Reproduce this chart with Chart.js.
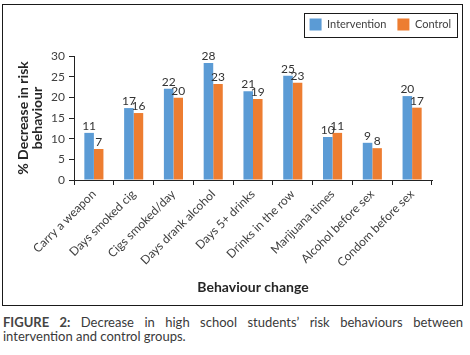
<!DOCTYPE html>
<html><head><meta charset="utf-8">
<script src="https://cdn.jsdelivr.net/npm/chart.js@4.4.0/dist/chart.umd.min.js"></script>
<style>
html,body{margin:0;padding:0;background:#fff;}
#frame{position:absolute;left:2px;top:4px;width:459px;height:300px;border:1px solid #1a1a1a;}
#frame canvas{display:block;}
#caption{position:absolute;left:3px;top:315px;width:460px;font-family:Lato,sans-serif;font-size:13px;line-height:14px;color:#3a3a3a;text-align:justify;text-align-last:left;}
#caption b{color:#444;}
</style></head><body>
<div id="frame"><canvas id="c" width="459" height="300"></canvas></div>
<div id="caption"><b>FIGURE 2:</b> Decrease in high school students’ risk behaviours between intervention and control groups.</div>
<script>
const categories = ['Carry a weapon', 'Days smoked cig', 'Cigs smoked/day', 'Days drank alcohol', 'Days 5+ drinks', 'Drinks in the row', 'Marijuana times', 'Alcohol before sex', 'Condom before sex'];
const seriesNames = ['Intervention', 'Control'];
const interventionValues = [11.4, 17.4, 22.1, 28.3, 21.5, 25.2, 10.4, 9.0, 20.3];
const controlValues = [7.5, 16.2, 19.9, 23.2, 19.6, 23.5, 11.4, 7.7, 17.5];
const interventionLabels = ['11', '17', '22', '28', '21', '25', '10', '9', '20'];
const controlLabels = ['7', '16', '20', '23', '19', '23', '11', '8', '17'];
const yTitleLines = ['% Decrease in risk', 'behaviour'];
const xTitle = 'Behaviour change';

Chart.defaults.font.family = 'Lato, sans-serif';
Chart.defaults.color = '#404040';

const valueLabels = {
  id: 'valueLabels',
  afterDatasetsDraw(chart) {
    const ctx = chart.ctx;
    const sets = [interventionLabels, controlLabels];
    ctx.save();
    ctx.font = '12px Lato, sans-serif';
    ctx.fillStyle = '#333';
    ctx.textAlign = 'center';
    ctx.textBaseline = 'alphabetic';
    chart.data.datasets.forEach((ds, i) => {
      chart.getDatasetMeta(i).data.forEach((bar, j) => {
        ctx.fillText(sets[i][j], bar.x, bar.y - 3);
      });
    });
    ctx.restore();
  }
};

const legendExtras = {
  id: 'legendExtras',
  beforeInit(chart) {
    const lg = chart.legend;
    const fit = lg.fit;
    lg.fit = function () { fit.call(this); this.height += 15.5; };
  },
  afterDraw(chart) {
    const hb = chart.legend.legendHitBoxes;
    if (!hb || !hb.length) return;
    const ctx = chart.ctx;
    const l = hb[0].left - 6, r = hb[hb.length - 1].left + hb[hb.length - 1].width + 6;
    const t = hb[0].top - 6, b = hb[0].top + hb[0].height + 6;
    ctx.save();
    ctx.strokeStyle = '#1a1a1a';
    ctx.lineWidth = 1;
    ctx.strokeRect(Math.round(l) + 0.5, Math.round(t) + 0.5, Math.round(r - l), Math.round(b - t));
    ctx.restore();
  }
};

new Chart(document.getElementById('c'), {
  type: 'bar',
  data: {
    labels: categories,
    datasets: [
      { label: seriesNames[0], data: interventionValues, backgroundColor: '#5B9BD5', borderWidth: 0 },
      { label: seriesNames[1], data: controlValues, backgroundColor: '#ED7D31', borderWidth: 0 }
    ]
  },
  options: {
    responsive: false,
    animation: false,
    devicePixelRatio: 1,
    datasets: { bar: { categoryPercentage: 0.48, barPercentage: 1.0 } },
    layout: { padding: { top: 2.5, right: 0, left: 0, bottom: 0 } },
    plugins: {
      legend: {
        position: 'top', align: 'end',
        labels: { boxWidth: 12, boxHeight: 12, padding: 11, font: { size: 11 }, color: '#404040' }
      },
      tooltip: { enabled: false }
    },
    scales: {
      x: {
        grid: { display: true, drawOnChartArea: false, drawTicks: true, tickLength: 5, color: '#222', offset: true },
        border: { display: true, color: '#222', width: 1 },
        ticks: { minRotation: 45, maxRotation: 45, autoSkip: false, font: { size: 12 }, color: '#404040', padding: 2 },
        title: { display: true, text: xTitle, font: { size: 14, weight: 'bold' }, color: '#262626', padding: { top: 0, bottom: 9 } },
        afterFit: s => { s.height = 125; }
      },
      y: {
        min: 0, max: 30,
        grid: { display: true, drawOnChartArea: false, drawTicks: true, tickLength: 5, color: '#222' },
        border: { display: true, color: '#222', width: 1 },
        ticks: { stepSize: 5, padding: 4, font: { size: 12 }, color: '#404040' },
        title: { display: true, text: yTitleLines, font: { size: 14, weight: 'bold', lineHeight: 1.0 }, color: '#262626', padding: { top: 13, bottom: 0 } },
        afterFit: s => { s.width = 71; }
      },
      yRight: {
        position: 'right', display: true,
        grid: { display: false }, border: { display: false }, ticks: { display: false },
        afterFit: s => { s.width = 30; }
      }
    }
  },
  plugins: [valueLabels, legendExtras]
});
</script>
</body></html>
